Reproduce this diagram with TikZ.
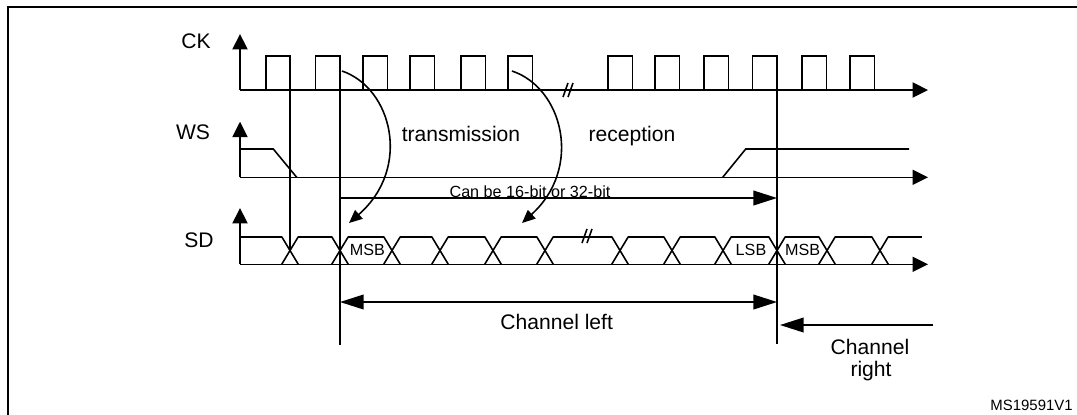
\documentclass[tikz,border=0pt]{standalone}
\usepackage{fontspec}
\setmainfont{Liberation Sans}
\usepackage{xcolor}
\usepackage{tikz}
\usetikzlibrary{arrows.meta}
\definecolor{ink}{HTML}{000000}
\tikzset{
  sig/.style={draw=ink, line width=0.9pt},
  frameLine/.style={draw=ink, line width=1.3pt},
  axis/.style={draw=ink, line width=0.9pt, -{Triangle[length=8.8pt,width=8.6pt]}},
  dimArrow/.style={draw=ink, line width=0.9pt, -{Triangle[length=13.5pt,width=8.4pt]}},
  dimBoth/.style={draw=ink, line width=0.9pt, {Triangle[length=13.5pt,width=8.4pt]}-{Triangle[length=13.5pt,width=8.4pt]}},
  bendArrow/.style={draw=ink, line width=0.9pt, -{Triangle[length=7.5pt,width=6.5pt]}},
  sigLab/.style={text=ink, font=\fontsize{12}{14}\selectfont, inner sep=0pt},
  bitLab/.style={text=ink, font=\fontsize{9.2}{11}\selectfont, inner sep=0pt},
  idLab/.style={text=ink, font=\fontsize{8.5}{10}\selectfont, inner sep=0pt}
}

\begin{document}
\begin{tikzpicture}[x=0.02cm, y=-0.02cm]
  \useasboundingbox (0,0) rectangle (1077,414);

  \coordinate (ckO) at (240,90);
  \coordinate (ckY) at (240,34);
  \coordinate (ckX) at (928,90);
  \coordinate (wsO) at (240,177.3);
  \coordinate (wsY) at (240,121.7);
  \coordinate (wsX) at (928,177.3);
  \coordinate (sdO) at (240,264.3);
  \coordinate (sdY) at (240,208);
  \coordinate (sdX) at (928,264.3);

  \coordinate (bitA) at (340,198);
  \coordinate (bitB) at (777,198);
  \coordinate (leftA) at (340,302);
  \coordinate (leftB) at (777,302);
  \coordinate (rightA) at (933,325);
  \coordinate (rightB) at (780,325);

  \coordinate (txA) at (342,71);
  \coordinate (txB) at (349,223);
  \coordinate (rxA) at (512,71);
  \coordinate (rxB) at (522,223);

  \draw[frameLine] (8,420) -- (8,7) -- (1085,7);

  \draw[axis] (ckO) -- (ckY);
  \draw[axis] (wsO) -- (wsY);
  \draw[axis] (sdO) -- (sdY);
  \draw[axis] (ckO) -- (ckX);
  \draw[axis] (wsO) -- (wsX);
  \draw[axis] (sdO) -- (sdX);

  \foreach \r in {266,315.5,363,410,461,508,608,655,704,752.5,802,850}
    \draw[sig] (\r,90) -- (\r,56) -- ({\r+24.5},56) -- ({\r+24.5},90);

  \draw[sig] (240,149) -- (273.3,149) -- (296.7,177.3);
  \draw[sig] (722.7,177.3) -- (745.7,149) -- (909,149);

  \foreach \c in {290,340,392,440,493,545,620,672,723,777,827,880} {
    \draw[sig] ({\c-8.3},236.7) -- ({\c+8.3},264.3);
    \draw[sig] ({\c-8.3},264.3) -- ({\c+8.3},236.7);
  }
  \draw[sig] (240,236.7) -- (281.7,236.7);
  \foreach \a/\b in {290/340,340/392,392/440,440/493,493/545,545/620,620/672,672/723,723/777,777/827,827/880}
    \draw[sig] ({\a+8.3},236.7) -- ({\b-8.3},236.7);
  \draw[sig] (888.3,236.7) -- (922,236.7);

  \foreach \d in {0,5} {
    \draw[sig] ({563+\d},97) -- ({568+\d},83);
    \draw[sig] ({582+\d},243) -- ({587+\d},229);
  }

  \draw[sig] (290,56) -- (290,250.5);
  \draw[sig] (340,56) -- (340,345);
  \draw[sig] (777,56) -- (777,344);

  \draw[bendArrow] (txA) .. controls (392,88) and (412,168) .. (txB);
  \draw[bendArrow] (rxA) .. controls (563,88) and (583,168) .. (rxB);

  \draw[dimArrow] (bitA) -- (bitB);
  \draw[dimBoth] (leftA) -- (leftB);
  \draw[dimArrow] (rightA) -- (rightB);

  \node[sigLab] (ckLab) at (196,41) {CK};
  \node[sigLab] (wsLab) at (193,132) {WS};
  \node[sigLab] (sdLab) at (199,240) {SD};
  \node[sigLab, anchor=base] (txLab) at (461,141.7) {transmission};
  \node[sigLab, anchor=base] (rxLab) at (632,141.7) {reception};
  \node[bitLab, anchor=base] (bitLab) at (530,197) {Can be 16-bit or 32-bit};
  \node[bitLab] (msbA) at (367.5,250) {MSB};
  \node[bitLab] (lsb) at (751,250) {LSB};
  \node[bitLab] (msbB) at (802.7,250) {MSB};
  \node[sigLab, anchor=base] (leftLab) at (556.7,329.3) {Channel left};
  \node[sigLab, anchor=base] (rightLabA) at (870,354) {Channel};
  \node[sigLab, anchor=base] (rightLabB) at (871,376.7) {right};
  \node[idLab, anchor=base east] (idLab) at (1073,410) {MS19591V1};
\end{tikzpicture}
\end{document}
